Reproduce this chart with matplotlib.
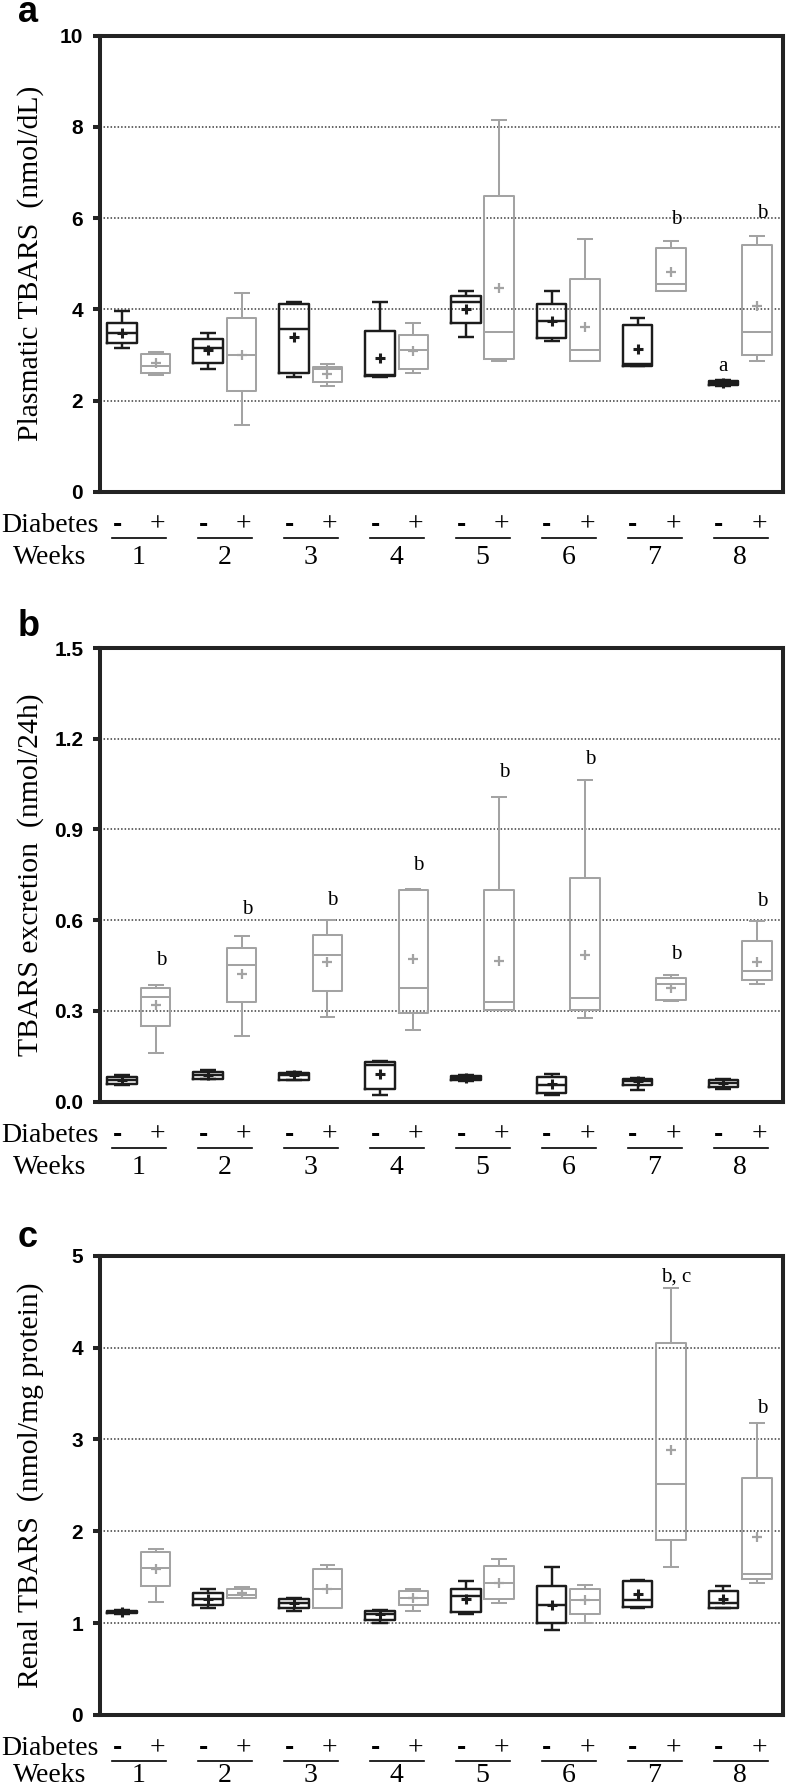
import matplotlib
matplotlib.use("Agg")
import matplotlib.pyplot as plt
import matplotlib.transforms as mtrans

# ---------------- data ----------------
WEEKS = [1, 2, 3, 4, 5, 6, 7, 8]
WEEK_LABELS = ["1", "2", "3", "4", "5", "6", "7", "8"]

# Panel a: Plasmatic TBARS (nmol/dL)
A_CTRL_LO   = [3.15, 2.70, 2.51, 2.51, 3.40, 3.31, 2.75, 2.32]
A_CTRL_Q1   = [3.27, 2.82, 2.60, 2.53, 3.70, 3.37, 2.75, 2.35]
A_CTRL_MED  = [3.47, 3.15, 3.57, 2.55, 4.17, 3.74, 2.79, 2.39]
A_CTRL_Q3   = [3.71, 3.35, 4.11, 3.52, 4.29, 4.11, 3.65, 2.43]
A_CTRL_HI   = [3.96, 3.47, 4.15, 4.15, 4.41, 4.41, 3.80, 2.45]
A_CTRL_MEAN = [3.47, 3.10, 3.39, 2.93, 4.01, 3.74, 3.13, 2.39]
A_DIAB_LO   = [2.55, 1.46, 2.32, 2.60, 2.86, 2.86, 4.41, 2.86]
A_DIAB_Q1   = [2.61, 2.20, 2.40, 2.70, 2.90, 2.86, 4.41, 3.00]
A_DIAB_MED  = [2.76, 3.00, 2.68, 3.10, 3.51, 3.10, 4.56, 3.51]
A_DIAB_Q3   = [3.01, 3.82, 2.74, 3.43, 6.48, 4.66, 5.35, 5.42]
A_DIAB_HI   = [3.07, 4.35, 2.80, 3.70, 8.15, 5.54, 5.49, 5.60]
A_DIAB_MEAN = [2.82, 3.00, 2.58, 3.08, 4.46, 3.62, 4.81, 4.08]
A_ANNOT_TEXT = ["a", "b", "b"]
A_ANNOT_WEEK = [8, 7, 8]
A_ANNOT_GROUP = ["ctrl", "diab", "diab"]
A_ANNOT_Y = [2.75, 5.97, 6.11]

# Panel b: TBARS excretion (nmol/24h)
B_CTRL_LO   = [0.053, 0.073, 0.070, 0.021, 0.067, 0.023, 0.038, 0.042]
B_CTRL_Q1   = [0.057, 0.076, 0.072, 0.042, 0.070, 0.029, 0.053, 0.047]
B_CTRL_MED  = [0.072, 0.088, 0.086, 0.120, 0.077, 0.054, 0.067, 0.061]
B_CTRL_Q3   = [0.082, 0.097, 0.094, 0.129, 0.085, 0.082, 0.076, 0.072]
B_CTRL_HI   = [0.086, 0.104, 0.099, 0.133, 0.086, 0.092, 0.078, 0.073]
B_CTRL_MEAN = [0.072, 0.088, 0.086, 0.091, 0.077, 0.057, 0.067, 0.061]
B_DIAB_LO   = [0.160, 0.217, 0.278, 0.238, 0.301, 0.275, 0.332, 0.388]
B_DIAB_Q1   = [0.249, 0.329, 0.365, 0.293, 0.301, 0.303, 0.337, 0.402]
B_DIAB_MED  = [0.344, 0.452, 0.483, 0.377, 0.329, 0.341, 0.389, 0.432]
B_DIAB_Q3   = [0.375, 0.508, 0.550, 0.699, 0.699, 0.739, 0.407, 0.531]
B_DIAB_HI   = [0.385, 0.546, 0.600, 0.704, 1.007, 1.064, 0.417, 0.598]
B_DIAB_MEAN = [0.318, 0.423, 0.461, 0.470, 0.464, 0.483, 0.375, 0.461]
B_ANNOT_TEXT = ["b", "b", "b", "b", "b", "b", "b", "b"]
B_ANNOT_WEEK = [1, 2, 3, 4, 5, 6, 7, 8]
B_ANNOT_GROUP = ["diab"] * 8
B_ANNOT_Y = [0.468, 0.636, 0.666, 0.780, 1.087, 1.131, 0.487, 0.663]

# Panel c: Renal TBARS (nmol/mg protein)
C_CTRL_LO   = [1.100, 1.170, 1.135, 1.004, 1.100, 0.930, 1.166, 1.170]
C_CTRL_Q1   = [1.114, 1.201, 1.170, 1.035, 1.122, 1.004, 1.179, 1.170]
C_CTRL_MED  = [1.122, 1.266, 1.223, 1.100, 1.297, 1.201, 1.253, 1.223]
C_CTRL_Q3   = [1.135, 1.323, 1.266, 1.135, 1.376, 1.406, 1.463, 1.345]
C_CTRL_HI   = [1.148, 1.376, 1.279, 1.148, 1.463, 1.607, 1.472, 1.406]
C_CTRL_MEAN = [1.120, 1.266, 1.223, 1.100, 1.258, 1.200, 1.319, 1.258]
C_DIAB_LO   = [1.231, 1.275, 1.170, 1.135, 1.223, 1.004, 1.607, 1.441]
C_DIAB_Q1   = [1.406, 1.275, 1.170, 1.201, 1.258, 1.100, 1.900, 1.485]
C_DIAB_MED  = [1.603, 1.310, 1.376, 1.275, 1.441, 1.253, 2.511, 1.537]
C_DIAB_Q3   = [1.769, 1.376, 1.585, 1.345, 1.624, 1.376, 4.052, 2.585]
C_DIAB_HI   = [1.812, 1.397, 1.629, 1.376, 1.703, 1.419, 4.651, 3.179]
C_DIAB_MEAN = [1.585, 1.323, 1.376, 1.275, 1.441, 1.253, 2.882, 1.934]
C_ANNOT_TEXT = ["b, c", "b"]
C_ANNOT_WEEK = [7, 8]
C_ANNOT_GROUP = ["diab", "diab"]
C_ANNOT_Y = [4.77, 3.34]

A_YTICKS = [0, 2, 4, 6, 8, 10]
A_YTICKLABELS = ["0", "2", "4", "6", "8", "10"]
B_YTICKS = [0.0, 0.3, 0.6, 0.9, 1.2, 1.5]
B_YTICKLABELS = ["0.0", "0.3", "0.6", "0.9", "1.2", "1.5"]
C_YTICKS = [0, 1, 2, 3, 4, 5]
C_YTICKLABELS = ["0", "1", "2", "3", "4", "5"]

# ---------------- style ----------------
W, H = 788, 1789
DPI = 100
SERIF = ["Liberation Serif", "DejaVu Serif"]
SANS = ["Liberation Sans", "DejaVu Sans"]
CTRL_COLOR = "#1c1c1c"
DIAB_COLOR = "#a3a3a3"
SPINE_COLOR = "#232323"
OFF = 0.195
BOX_W = 0.345
CAP_W = 0.185
XLIM = (0.541, 8.502)


def make_stats(lo, q1, med, q3, hi, mean):
    return [dict(whislo=a, q1=b, med=c, q3=d, whishi=e, mean=f, fliers=[])
            for a, b, c, d, e, f in zip(lo, q1, med, q3, hi, mean)]


fig = plt.figure(figsize=(W / DPI, H / DPI), dpi=DPI)


def add_axes(top_px, bottom_px):
    left, right = 99.5, 783.3
    return fig.add_axes([left / W, 1 - bottom_px / H, (right - left) / W,
                         (bottom_px - top_px) / H])


def px_offset(ax, px, xfig=False):
    base = mtrans.blended_transform_factory(fig.transFigure if xfig else ax.transData,
                                            ax.transAxes)
    return base + mtrans.ScaledTranslation(0, -px / DPI, fig.dpi_scale_trans)


def draw_panel(ax, ctrl, diab, ylim, yticks, yticklabels, ylabel, annots,
               letter, letter_base_px, top_px, bottom_px, weeks_off=72):
    for stats, sign, color, lw, mlw in ((ctrl, -1, CTRL_COLOR, 1.75, 2.2),
                                         (diab, +1, DIAB_COLOR, 1.45, 1.6)):
        pos = [w + sign * OFF for w in WEEKS]
        line = dict(color=color, linewidth=lw, solid_capstyle="butt")
        ax.bxp(stats, positions=pos, widths=BOX_W, capwidths=CAP_W,
               showmeans=True, showfliers=False, manage_ticks=False,
               boxprops=dict(color=color, linewidth=lw),
               whiskerprops=line, capprops=line,
               medianprops=dict(color=color, linewidth=lw),
               meanprops=dict(marker="+", markeredgecolor=color,
                              markersize=7, markeredgewidth=mlw))
    ax.set_xlim(*XLIM)
    ax.set_ylim(*ylim)
    ax.set_xticks([])
    ax.set_yticks(yticks)
    ax.set_yticklabels(yticklabels, fontfamily=SANS, fontweight="bold", fontsize=15)
    ax.tick_params(axis="y", direction="out", length=5.2, width=2.9,
                   color=SPINE_COLOR, pad=6.5)
    ax.yaxis.grid(True, linestyle=(0, (1.0, 1.3)), linewidth=1.1, color="#3a3a3a")
    ax.set_axisbelow(True)
    for sp in ax.spines.values():
        sp.set_linewidth(2.9)
        sp.set_color(SPINE_COLOR)
        sp.set_capstyle("projecting")

    # significance letters
    texts, weeks, groups, ys = annots
    for t, w, g, y in zip(texts, weeks, groups, ys):
        x = w - OFF if g == "ctrl" else w + OFF + 0.06
        ax.text(x, y, t, ha="center", va="center", fontfamily=SERIF, fontsize=15)

    # table under the axis
    for w, lab in zip(WEEKS, WEEK_LABELS):
        ax.text(w - 0.25, 0, "-", transform=px_offset(ax, 40), ha="center",
                va="baseline", fontfamily=SANS, fontweight="bold", fontsize=20,
                clip_on=False)
        ax.text(w + 0.22, 0, "+", transform=px_offset(ax, 40), ha="center",
                va="baseline", fontfamily=SERIF, fontsize=20, clip_on=False)
        ax.plot([w - 0.31, w + 0.32], [0, 0], transform=px_offset(ax, 46),
                color="black", linewidth=1.2, clip_on=False)
        ax.text(w, 0, lab, transform=px_offset(ax, weeks_off), ha="center",
                va="baseline", fontfamily=SERIF, fontsize=20, clip_on=False)
    ax.text(50 / W, 0, "Diabetes", transform=px_offset(ax, 40, xfig=True),
            ha="center", va="baseline", fontfamily=SERIF, fontsize=20, clip_on=False)
    ax.text(50 / W, 0, "Weeks", transform=px_offset(ax, weeks_off, xfig=True),
            ha="center", va="baseline", fontfamily=SERIF, fontsize=20, clip_on=False)

    # y label and panel letter
    fig.text(31 / W, 1 - (top_px + bottom_px) / 2 / H, ylabel, rotation=90,
             ha="center", va="center", fontfamily=SERIF, fontsize=21.4)
    fig.text(18 / W, 1 - letter_base_px / H, letter, ha="left", va="baseline",
             fontfamily=SANS, fontweight="bold", fontsize=26)


axa = add_axes(35.7, 491.7)
draw_panel(axa,
           make_stats(A_CTRL_LO, A_CTRL_Q1, A_CTRL_MED, A_CTRL_Q3, A_CTRL_HI, A_CTRL_MEAN),
           make_stats(A_DIAB_LO, A_DIAB_Q1, A_DIAB_MED, A_DIAB_Q3, A_DIAB_HI, A_DIAB_MEAN),
           (0, 10), A_YTICKS, A_YTICKLABELS, "Plasmatic TBARS  (nmol/dL)",
           (A_ANNOT_TEXT, A_ANNOT_WEEK, A_ANNOT_GROUP, A_ANNOT_Y),
           "a", 22, 35.7, 491.7)

axb = add_axes(648.0, 1101.5)
draw_panel(axb,
           make_stats(B_CTRL_LO, B_CTRL_Q1, B_CTRL_MED, B_CTRL_Q3, B_CTRL_HI, B_CTRL_MEAN),
           make_stats(B_DIAB_LO, B_DIAB_Q1, B_DIAB_MED, B_DIAB_Q3, B_DIAB_HI, B_DIAB_MEAN),
           (0, 1.5), B_YTICKS, B_YTICKLABELS, "TBARS excretion  (nmol/24h)",
           (B_ANNOT_TEXT, B_ANNOT_WEEK, B_ANNOT_GROUP, B_ANNOT_Y),
           "b", 636.5, 648.0, 1101.5)

axc = add_axes(1255.7, 1715.0)
draw_panel(axc,
           make_stats(C_CTRL_LO, C_CTRL_Q1, C_CTRL_MED, C_CTRL_Q3, C_CTRL_HI, C_CTRL_MEAN),
           make_stats(C_DIAB_LO, C_DIAB_Q1, C_DIAB_MED, C_DIAB_Q3, C_DIAB_HI, C_DIAB_MEAN),
           (0, 5), C_YTICKS, C_YTICKLABELS, "Renal TBARS  (nmol/mg protein)",
           (C_ANNOT_TEXT, C_ANNOT_WEEK, C_ANNOT_GROUP, C_ANNOT_Y),
           "c", 1247, 1255.7, 1715.0, weeks_off=67)

fig.savefig("out.png", dpi=DPI)
